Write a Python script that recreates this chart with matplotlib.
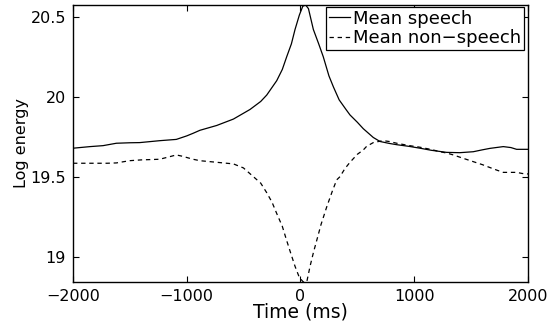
import numpy as np
import matplotlib
matplotlib.use('Agg')
import matplotlib.pyplot as plt

plt.rcParams['font.family'] = ['DejaVu Sans']

# mean log energy around the speech onset
speech_ms = [-2000, -1850, -1736, -1619, -1500, -1414, -1238, -1092, -1000, -945,
             -884, -737, -590, -444, -350, -297, -209, -160, -121, -80,
             -48, -10, 20, 45, 70, 113, 160, 200, 250, 290,
             340, 400, 435, 500, 552, 600, 640, 699, 780, 846,
             950, 1051, 1150, 1285, 1400, 1519, 1600, 1666, 1783, 1850,
             1900, 2000]
speech_val = [19.678, 19.688, 19.694, 19.709, 19.712, 19.713, 19.725, 19.733, 19.755, 19.771,
              19.790, 19.820, 19.860, 19.920, 19.970, 20.010, 20.100, 20.170, 20.250, 20.330,
              20.420, 20.510, 20.565, 20.573, 20.550, 20.420, 20.330, 20.250, 20.130, 20.060,
              19.980, 19.920, 19.886, 19.840, 19.800, 19.770, 19.745, 19.720, 19.708, 19.700,
              19.690, 19.678, 19.665, 19.652, 19.650, 19.656, 19.668, 19.677, 19.688, 19.682,
              19.671, 19.671]

nonspeech_ms = [-2000, -1850, -1700, -1619, -1502, -1400, -1238, -1150, -1092, -1040,
                -945, -884, -737, -590, -502, -414, -350, -297, -250, -209,
                -160, -121, -85, -48, -10, 25, 55, 84, 115, 142,
                180, 230, 280, 318, 347, 390, 435, 500, 552, 582,
                640, 700, 728, 780, 846, 950, 1051, 1150, 1226, 1285,
                1343, 1430, 1519, 1600, 1666, 1730, 1783, 1900, 1950, 2000]
nonspeech_val = [19.584, 19.584, 19.584, 19.586, 19.600, 19.605, 19.609, 19.625, 19.636, 19.628,
                 19.609, 19.600, 19.590, 19.580, 19.555, 19.500, 19.460, 19.400, 19.340, 19.270,
                 19.190, 19.100, 19.020, 18.940, 18.870, 18.842, 18.842, 18.940, 19.030, 19.100,
                 19.200, 19.310, 19.410, 19.480, 19.500, 19.550, 19.590, 19.640, 19.667, 19.690,
                 19.713, 19.722, 19.725, 19.720, 19.709, 19.695, 19.684, 19.670, 19.656, 19.648,
                 19.636, 19.615, 19.594, 19.575, 19.557, 19.540, 19.527, 19.527, 19.520, 19.517]

xticks = [-2000, -1000, 0, 1000, 2000]
yticks = [19, 19.5, 20, 20.5]

fig = plt.figure(figsize=(5.49, 3.21), dpi=100)
ax = fig.add_axes([0.133, 0.1215, 0.8287, 0.863])

ax.plot(speech_ms, speech_val, color='black', lw=0.9, label='Mean speech')
ax.plot(nonspeech_ms, nonspeech_val, color='black', lw=0.9,
        linestyle=(0, (3.5, 3)), label='Mean non\u2212speech')

ax.set_xlim(-2000, 2000)
ax.set_ylim(min(nonspeech_val), max(speech_val))
ax.set_xticks(xticks)
ax.set_yticks(yticks)
ax.set_yticklabels(['19', '19.5', '20', '20.5'])
ax.tick_params(direction='in', top=True, right=True, length=4, width=0.8,
               labelsize=11.5, pad=5)
for s in ax.spines.values():
    s.set_linewidth(1.0)

ax.set_xlabel('Time (ms)', fontsize=13.5, labelpad=-1)
ax.set_ylabel('Log energy', fontsize=11.5, labelpad=1)

leg = ax.legend(loc='upper right', bbox_to_anchor=(0.991, 0.993), fontsize=13,
                frameon=True, fancybox=False, shadow=False, framealpha=1,
                edgecolor='black', borderpad=0.15, labelspacing=0.1,
                handlelength=1.2, handletextpad=0.15, borderaxespad=0)
leg.get_frame().set_linewidth(0.9)

fig.savefig('out.png', dpi=100)
